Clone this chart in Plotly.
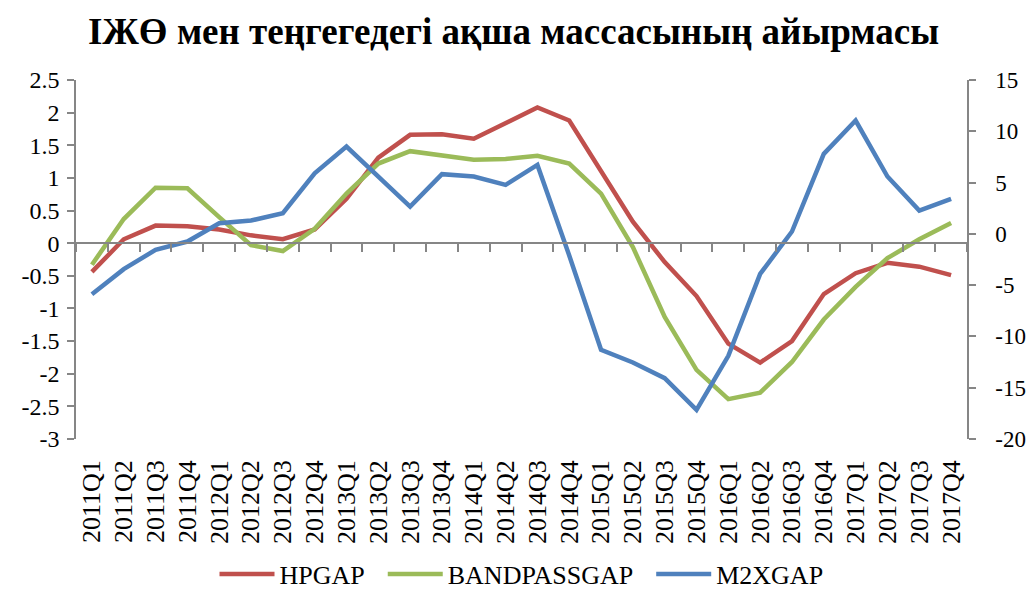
import plotly.graph_objects as go

quarters = ["2011Q1", "2011Q2", "2011Q3", "2011Q4", "2012Q1", "2012Q2", "2012Q3", "2012Q4",
            "2013Q1", "2013Q2", "2013Q3", "2013Q4", "2014Q1", "2014Q2", "2014Q3", "2014Q4",
            "2015Q1", "2015Q2", "2015Q3", "2015Q4", "2016Q1", "2016Q2", "2016Q3", "2016Q4",
            "2017Q1", "2017Q2", "2017Q3", "2017Q4"]

hpgap = [-0.44, 0.06, 0.27, 0.26, 0.21, 0.12, 0.06, 0.21,
         0.68, 1.31, 1.66, 1.67, 1.60, 1.84, 2.08, 1.88,
         1.09, 0.33, -0.29, -0.81, -1.54, -1.83, -1.50, -0.78,
         -0.46, -0.30, -0.36, -0.49]

bandpassgap = [-0.33, 0.37, 0.85, 0.84, 0.40, -0.03, -0.12, 0.22,
               0.76, 1.22, 1.41, 1.35, 1.28, 1.29, 1.34, 1.22,
               0.76, -0.06, -1.13, -1.94, -2.39, -2.29, -1.82, -1.17,
               -0.67, -0.23, 0.06, 0.31]

m2xgap = [-5.88, -3.44, -1.56, -0.75, 1.04, 1.30, 2.01, 5.91,
          8.51, 5.62, 2.66, 5.82, 5.59, 4.78, 6.72, -2.1,
          -11.3, -12.54, -14.07, -17.15, -11.89, -3.9, 0.23, 7.8,
          11.05, 5.59, 2.27, 3.41]

left_ticks = [2.5, 2, 1.5, 1, 0.5, 0, -0.5, -1, -1.5, -2, -2.5, -3]
right_ticks = [15, 10, 5, 0, -5, -10, -15, -20]

left_range = [-3, 2.5]
right_range = [-20, 15]

FONT = "Liberation Serif"
GRAY = "#868686"
PAD = "\u00a0\u00a0"


def fmt(v):
    return "%g" % v  # plain ASCII hyphen for negatives


fig = go.Figure()
fig.add_trace(go.Scatter(x=quarters, y=hpgap, name="HPGAP" + PAD, mode="lines",
                         line=dict(color="#C0504D", width=4.5)))
fig.add_trace(go.Scatter(x=quarters, y=bandpassgap, name="BANDPASSGAP" + PAD, mode="lines",
                         line=dict(color="#9BBB59", width=4.5)))
fig.add_trace(go.Scatter(x=quarters, y=m2xgap, name="M2XGAP", mode="lines", yaxis="y2",
                         line=dict(color="#4F81BD", width=4.5)))
# invisible helper trace to materialise the zero-line category axis
fig.add_trace(go.Scatter(x=list(range(len(quarters))), y=hpgap, xaxis="x2", mode="lines",
                         line=dict(width=0), opacity=0, showlegend=False, hoverinfo="skip"))

zero_pos = (0 - left_range[0]) / (left_range[1] - left_range[0])

W, H = 1027, 592
fig.update_layout(
    width=W, height=H,
    margin=dict(l=76, r=60, t=80, b=153, autoexpand=False),
    paper_bgcolor="white", plot_bgcolor="white",
    font=dict(family=FONT, size=24, color="black"),
    title=dict(text="<b>ІЖӨ мен теңгегедегі ақша массасының айырмасы</b>",
               x=0.5, xanchor="center", y=1 - 31 / H, yanchor="middle",
               font=dict(family=FONT, size=37, color="black")),
    xaxis=dict(type="category", showline=False, ticks="", showgrid=False, zeroline=False,
               tickangle=-90, tickfont=dict(size=26), ticklabelstandoff=15,
               range=[-0.5, len(quarters) - 0.5], automargin=False),
    xaxis2=dict(type="linear", overlaying="x", anchor="free", position=zero_pos,
                range=[-0.5, len(quarters) - 0.5], tick0=-0.5, dtick=1,
                showline=True, linecolor=GRAY, linewidth=1.5,
                ticks="outside", ticklen=8, tickcolor=GRAY, tickwidth=1.5,
                showticklabels=False, showgrid=False, zeroline=False, automargin=False),
    yaxis=dict(range=left_range, tickvals=left_ticks, ticktext=[fmt(v) for v in left_ticks],
               showgrid=False, zeroline=False,
               showline=True, linecolor=GRAY, linewidth=1.5,
               ticks="outside", ticklen=7, tickcolor=GRAY, tickwidth=1.5,
               ticklabelstandoff=3, tickfont=dict(size=24), automargin=False),
    yaxis2=dict(range=right_range, tickvals=right_ticks, ticktext=[fmt(v) for v in right_ticks],
                overlaying="y", side="right",
                showgrid=False, zeroline=False,
                showline=True, linecolor=GRAY, linewidth=1.5,
                ticks="outside", ticklen=7, tickcolor=GRAY, tickwidth=1.5,
                ticklabelstandoff=15, tickfont=dict(size=23), automargin=False),
    legend=dict(orientation="h", x=0.5, xanchor="center", y=-135 / 359, yanchor="middle",
                font=dict(family=FONT, size=26), itemwidth=55, tracegroupgap=0),
    showlegend=True,
)

fig.write_html("out.html",
               config={"displayModeBar": False},
               post_script="document.body.style.margin='0px';"
                           "document.body.style.overflow='hidden';")
